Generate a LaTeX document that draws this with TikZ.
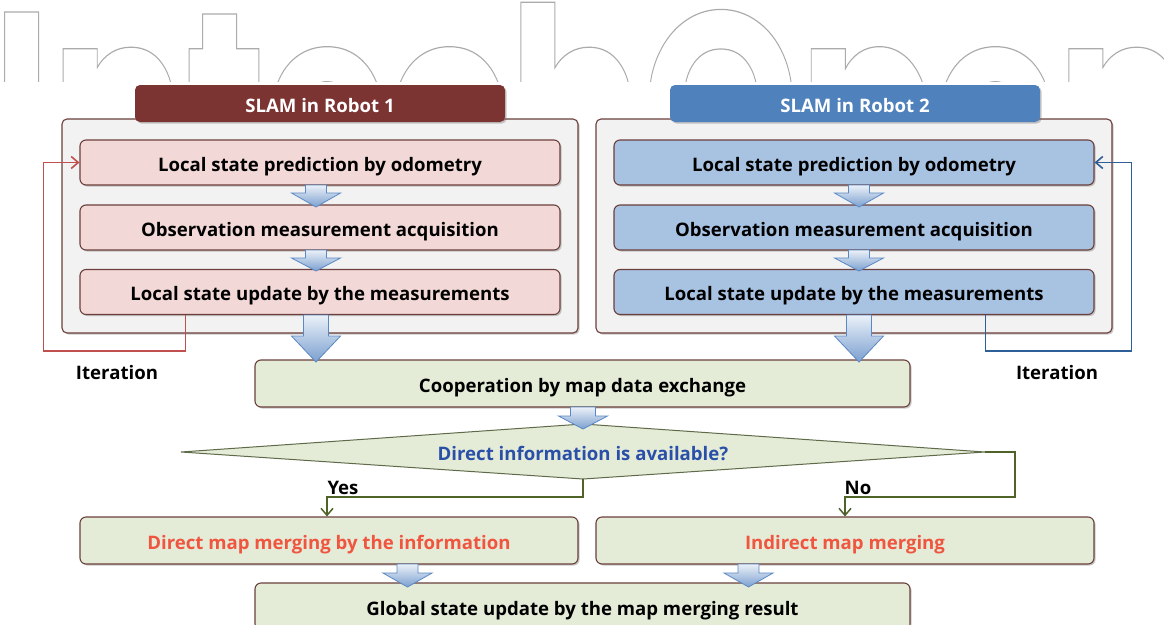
\documentclass[tikz,border=0pt]{standalone}
\usepackage{fontspec}
\usepackage{graphicx}
\setmainfont{Open Sans}
\newfontfamily\wmfont{Poppins}
\usetikzlibrary{shadows,arrows.meta,calc}

\definecolor{titleone}{HTML}{7B3432}
\definecolor{titletwo}{HTML}{4F81BD}
\definecolor{edge}{HTML}{6B3F3B}
\definecolor{panel}{HTML}{F2F2F2}
\definecolor{pinkfill}{HTML}{F2D8D6}
\definecolor{bluefill}{HTML}{A8C2E2}
\definecolor{greenfill}{HTML}{E4ECD8}
\definecolor{olive}{HTML}{4F6228}
\definecolor{loopred}{HTML}{C0504D}
\definecolor{loopblue}{HTML}{2F5F98}
\definecolor{asktext}{HTML}{2A4FA8}
\definecolor{mergetext}{HTML}{F0553F}
\definecolor{arrowedge}{HTML}{5A88C4}

\tikzset{
  txt/.style={font=\fontsize{18.6}{21}\selectfont\bfseries, text height=21pt, text depth=4pt},
  shade/.style={drop shadow={shadow xshift=1.6pt, shadow yshift=-1.6pt, opacity=0.35, fill=black!60}},
  titlebox/.style={txt, text=white, rounded corners=5pt, minimum width=370pt, minimum height=37pt, inner sep=0pt, shade},
  panelbox/.style={fill=panel, draw=edge, line width=1.1pt, rounded corners=5pt, minimum width=516pt, minimum height=214pt, inner sep=0pt, shade},
  stepbox/.style={txt, draw=edge, line width=1.1pt, rounded corners=6pt, minimum width=480pt, minimum height=45pt, inner sep=0pt, shade},
  greenbox/.style={txt, fill=greenfill, draw=edge, line width=1.1pt, rounded corners=6pt, minimum height=47pt, inner sep=0pt, shade},
  blockarrow/.style={top color=white!70!arrowedge!40, bottom color=arrowedge!80, draw=arrowedge, line width=0.8pt, line join=miter},
  looparrow/.style={line width=1.6pt, -{Straight Barb[length=7pt, width=12pt]}},
  branch/.style={olive, line width=1.5pt, -{Straight Barb[length=7pt, width=12pt]}},
}

% block arrow: x centre, top, neck, tip, shaft half width
\newcommand{\blockdown}[5]{%
  \draw[blockarrow] (#1-#5,#2) -- (#1+#5,#2) -- (#1+#5,#3) -- (#1+24.5,#3)
    -- (#1,#4) -- (#1-24.5,#3) -- (#1-#5,#3) -- cycle;}

\begin{document}
\begin{tikzpicture}[x=1pt,y=-1pt]
\useasboundingbox (0,0) rectangle (1164,624);
\fill[white] (0,0) rectangle (1164,624);

% publisher mark behind the chart, outlined letters cut at the top band
\begin{scope}
  \clip (0,0) rectangle (1164,81);
  \node[anchor=base west, inner sep=0pt, text=black!33] (mark) at (-8,191)
    {\scalebox{0.78}[1]{\fontsize{255}{255}\wmfont\bfseries\special{pdf:literal direct 1 Tr 1.2 w}IntechOpen\special{pdf:literal direct 0 Tr}}};
\end{scope}

% robot panels
\node[panelbox] (p1) at (320,226) {};
\node[panelbox] (p2) at (854,226) {};
\node[titlebox, fill=titleone] (t1) at (320,103.5) {SLAM in Robot 1};
\node[titlebox, fill=titletwo] (t2) at (855,103.5) {SLAM in Robot 2};

\node[stepbox, fill=pinkfill] (r1a) at (320,162.5) {Local state prediction by odometry};
\node[stepbox, fill=pinkfill] (r1b) at (320,227.5) {Observation measurement acquisition};
\node[stepbox, fill=pinkfill] (r1c) at (320,292)   {Local state update by the measurements};
\node[stepbox, fill=bluefill] (r2a) at (854,162.5) {Local state prediction by odometry};
\node[stepbox, fill=bluefill] (r2b) at (854,227.5) {Observation measurement acquisition};
\node[stepbox, fill=bluefill] (r2c) at (854,292)   {Local state update by the measurements};

% shared stages
\node[greenbox, minimum width=655pt] (coop) at (582.5,383.5) {Cooperation by map data exchange};
\coordinate (dL) at (181,452);
\coordinate (dT) at (583,424);
\coordinate (dR) at (985,452);
\coordinate (dB) at (583,479);
\draw[fill=greenfill, draw=olive!70!black!80, line width=1pt] (dL) -- (dT) -- (dR) -- (dB) -- cycle;
\node[txt, text=asktext] (ask) at (583,452) {Direct information is available?};

\node[greenbox, minimum width=498pt, text=mergetext] (direct) at (329,540.5) {Direct map merging by the information};
\node[greenbox, minimum width=498pt, text=mergetext] (indirect) at (845,540.5) {Indirect map merging};
\node[greenbox, minimum width=655pt] (global) at (582.5,606.5) {Global state update by the map merging result};

% flow arrows
\blockdown{316}{185}{193}{207}{10.5}
\blockdown{316}{250}{258}{271}{10.5}
\blockdown{859}{185}{193}{207}{10.5}
\blockdown{859}{250}{258}{271}{10.5}
\blockdown{316}{315}{336}{362}{12.5}
\blockdown{859}{315}{336}{362}{12.5}
\blockdown{583}{407}{416}{429}{12.5}
\blockdown{407.5}{564}{573}{587}{10.5}
\blockdown{748.5}{564}{573}{587}{10.5}

% iteration loops
\draw[looparrow, loopred] ($(r1c.south west)+(106,0)$) -- ++(0,36) -| ($(r1a.west)+(-36,0)$) -- (r1a.west);
\draw[looparrow, loopblue] ($(r2c.south east)+(-109,0)$) -- ++(0,36) -| ($(r2a.east)+(37,0)$) -- (r2a.east);
\node[txt] (it1) at (117,371) {Iteration};
\node[txt] (it2) at (1057,371) {Iteration};

% decision branches
\draw[branch] (dB) -- ++(0,18) -| ($(direct.north)+(-2,0)$);
\draw[branch] (dR) -- ++(30,0) |- ++(-170,45) -| (indirect.north);
\node[txt, anchor=west] (yes) at (324,486) {Yes};
\node[txt] (no) at (858,486) {No};
\end{tikzpicture}
\end{document}
